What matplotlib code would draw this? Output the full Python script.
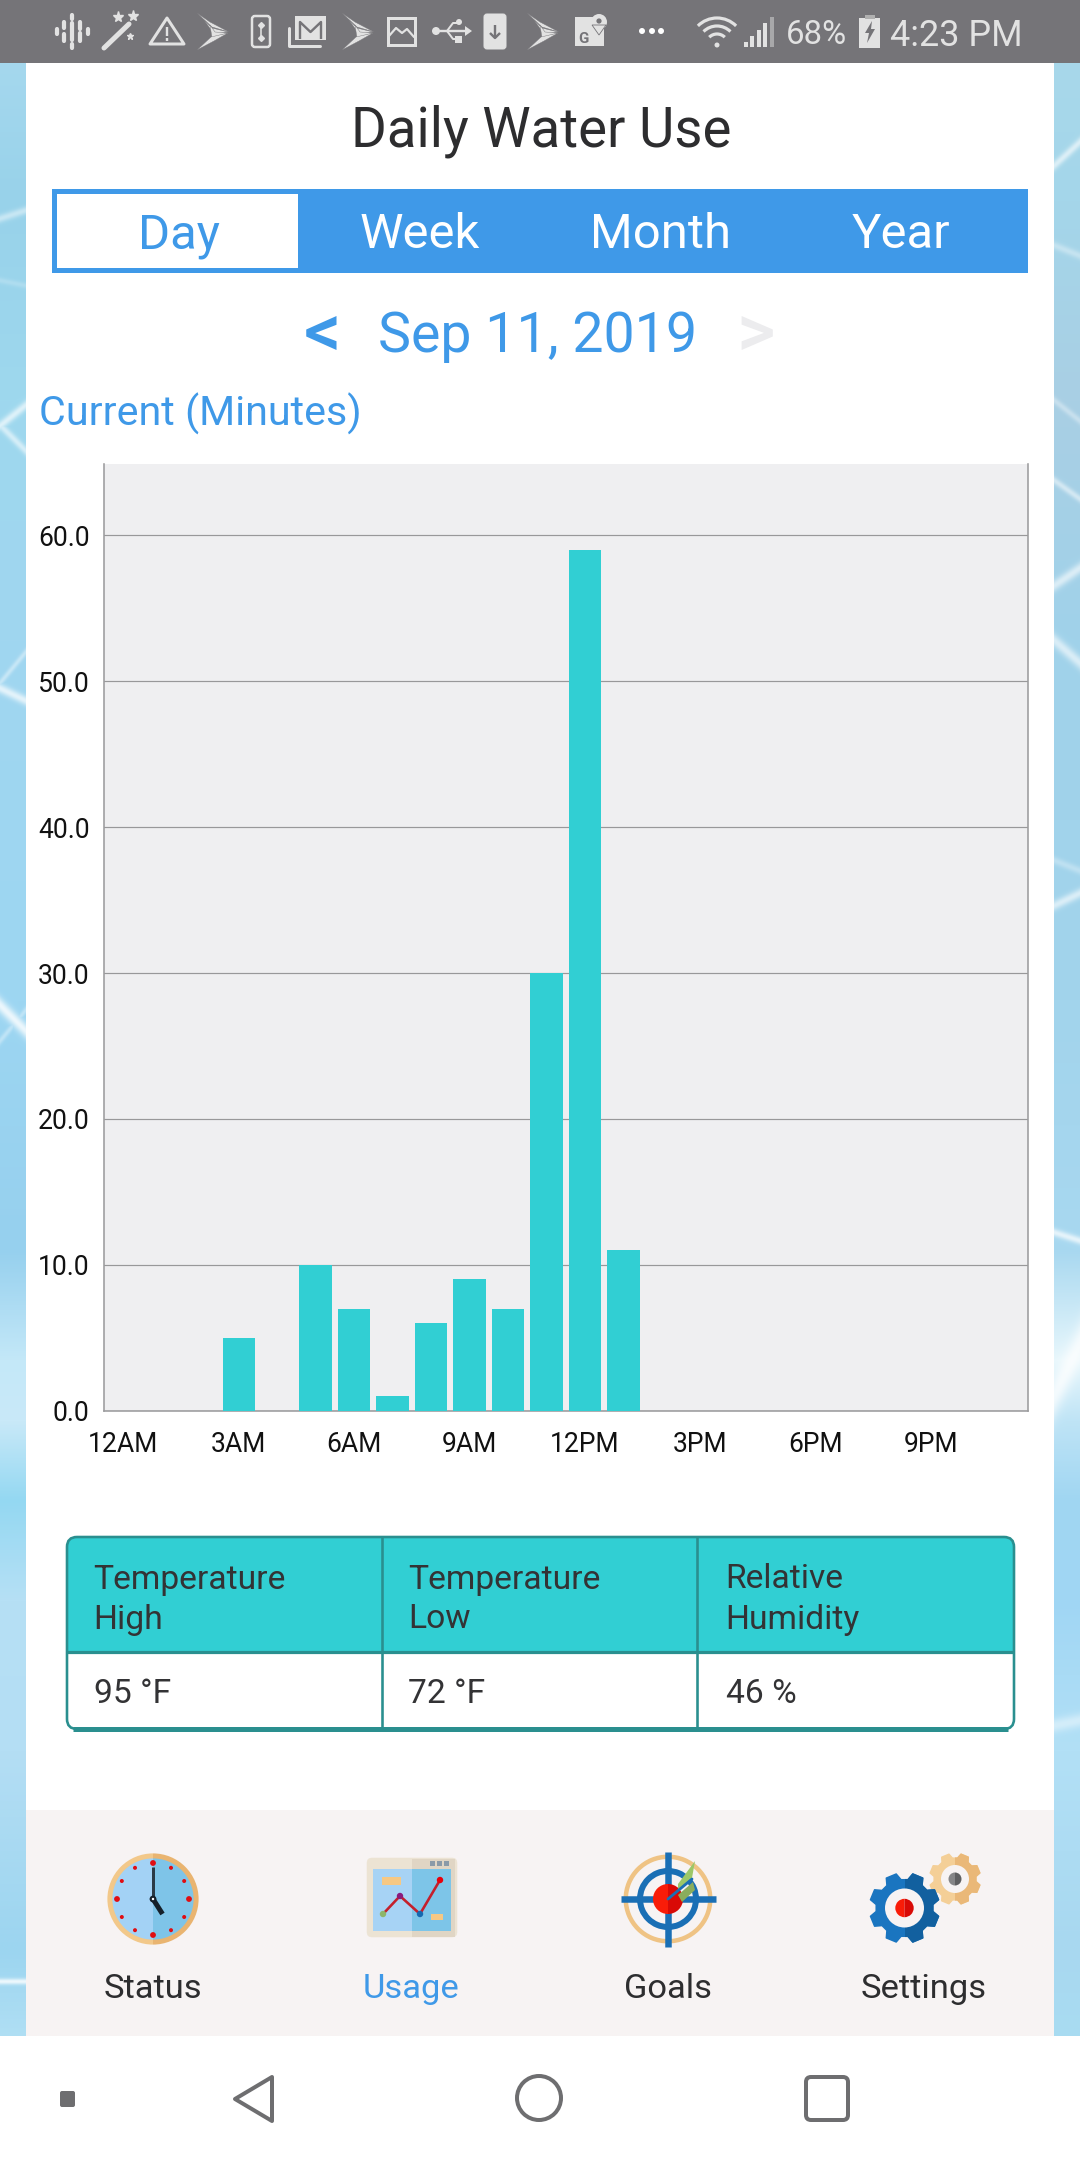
import numpy as np
import matplotlib
matplotlib.use("Agg")
import matplotlib.pyplot as plt
from matplotlib.patches import Rectangle, Circle, Polygon, FancyBboxPatch, Wedge, Arc

plt.rcParams['font.family'] = ['Roboto', 'DejaVu Sans']

# ---- data ----
hours = [3, 5, 6, 7, 8, 9, 10, 11, 12, 13]
minutes = [5, 10, 7, 1, 6, 9, 7, 30, 59, 11]
x_tick_hours = [0, 3, 6, 9, 12, 15, 18, 21]
x_tick_labels = ['12AM', '3AM', '6AM', '9AM', '12PM', '3PM', '6PM', '9PM']
y_ticks = [0, 10, 20, 30, 40, 50, 60]
tabs = ['Day', 'Week', 'Month', 'Year']
table_headers = [['Temperature', 'High'], ['Temperature', 'Low'], ['Relative', 'Humidity']]
table_values = ['95 °F', '72 °F', '46 %']
nav_labels = ['Status', 'Usage', 'Goals', 'Settings']

BLUE = '#3f99e8'
TEAL = '#31cfd3'
DARK = '#2d2d2f'
ICON = '#e2e2e2'
STATUS = '#757478'
NAVGRAY = '#6e6e70'
NAVBG = '#f7f3f3'

fig = plt.figure(figsize=(10.8, 21.6), dpi=100, facecolor='white')
bg = fig.add_axes([0, 0, 1, 1])
bg.axis('off')

def px(p):
    return p * 0.72

def T(x, y, s, size_px, color=DARK, ha='left', va='baseline', weight='normal', **kw):
    return bg.text(x, y, s, fontsize=px(size_px), color=color, ha=ha, va=va, fontweight=weight, **kw)

def R(x0, y0, x1, y1, color, z=1, **kw):
    bg.add_patch(Rectangle((x0, y0), x1 - x0, y1 - y0, facecolor=color, edgecolor='none', zorder=z, **kw))

def C(x, y, r, color, z=3):
    bg.add_patch(Circle((x, y), r, facecolor=color, edgecolor='none', zorder=z))

def L(xs, ys, color, w, z=3, **kw):
    bg.plot(xs, ys, color=color, lw=px(w), zorder=z, solid_capstyle=kw.pop('cap', 'round'), solid_joinstyle='round', **kw)

# ---- pool-water side strips (soft gradients with blurred light streaks) ----
stops_y = [63, 200, 400, 640, 1000, 1250, 1360, 1420, 1500, 1600, 1750, 1950, 2036]
left_c = ['#a5d8ee', '#98d2ea', '#9ed8ee', '#a0d6f0', '#9dd6f2', '#96d0ee', '#c4e8f8', '#c9e9f8',
          '#94d8f2', '#b6e0f5', '#b4def4', '#9cd5f0', '#b0dff4']
right_c = ['#a8d8ea', '#a4d6ea', '#a9cfe4', '#a0d2ea', '#a2d4ec', '#a8d8f0', '#e8f7fc', '#bfe4f6',
           '#a0d6f2', '#a0d6f4', '#b2e0f6', '#a8d8f0', '#a8dcf2']
left_streaks = [(218, 210, 4, .45), (280, 285, 3, .2), (425, 405, 5, .65), (425, 450, 5, .55), (682, 652, 4, .4),
                (688, 700, 5, .7), (1005, 1030, 8, .8), (1040, 1010, 4, .35), (1981, 1981, 3, .8)]
right_streaks = [(165, 142, 5, .6), (245, 255, 4, .35), (400, 420, 4, .35), (480, 498, 4, .5), (585, 568, 6, .6),
                 (640, 662, 7, .6), (905, 893, 5, .6), (860, 870, 4, .3),
                 (1232, 1240, 4, .7), (1395, 1345, 22, .75), (1725, 1720, 7, .45)]
ys = np.arange(63, 2037)
xs_strip = np.linspace(0, 1, 26)
def strip(cols, streaks):
    rgb = np.array([matplotlib.colors.to_rgb(c) for c in cols])
    base = np.stack([np.interp(ys, stops_y, rgb[:, i]) for i in range(3)], axis=1)[:, None, :]
    img = np.repeat(base, xs_strip.size, axis=1)
    yy, xx = np.meshgrid(ys, xs_strip, indexing='ij')
    glow = np.zeros_like(yy, dtype=float)
    for y0, y1, s, a in streaks:
        glow = np.maximum(glow, a * np.exp(-((yy - (y0 + (y1 - y0) * xx)) / s) ** 2))
    return img * (1 - glow[..., None]) + glow[..., None]
bg.imshow(strip(left_c, left_streaks), extent=(0, 26, 2037, 63), aspect='auto', zorder=0, interpolation='bilinear')
bg.imshow(strip(right_c, right_streaks), extent=(1054, 1080, 2037, 63), aspect='auto', zorder=0, interpolation='bilinear')
bg.set_xlim(0, 1080)
bg.set_ylim(2160, 0)

# ---- page panel and bars ----
R(26, 63, 1054, 1810, 'white', 0.8)
R(26, 1810, 1054, 2036, NAVBG, 0.8)
R(0, 0, 1080, 63, STATUS, 0.9)
R(0, 2036, 1080, 2160, 'white', 0.9)

# ---- status bar ----
def sprint(x):
    feathers = [[[x, 13], [x + 13, 22], [x + 32, 32], [x + 15, 27]],
                [[x + 7, 20], [x + 17, 34], [x + 31, 32], [x + 15, 28]],
                [[x + 13, 25], [x + 15, 38], [x + 31, 33], [x + 18, 32]],
                [[x + 31, 33], [x + 14, 37], [x, 50], [x + 17, 41]]]
    for f in feathers:
        bg.add_patch(Polygon(f, closed=True, facecolor=ICON, edgecolor=STATUS, lw=0.3, zorder=3))
for xc, ylist in [(57, [(29, 34)]), (64, [(22, 28), (34, 41)]), (72, [(15, 19), (23, 40), (44, 48)]),
                  (80, [(22, 29), (33, 41)]), (88, [(29, 34)])]:
    for a, b in ylist:
        L([xc, xc], [a, b], ICON, 4.2)
L([104, 129], [48, 24], ICON, 5)
bg.plot([118, 133], [17, 16], ls='', marker='*', color=ICON, ms=8)
bg.plot([130], [36], ls='', marker='*', color=ICON, ms=5)
bg.add_patch(Polygon([[167, 18], [150, 44], [184, 44]], closed=True, fill=False, edgecolor=ICON, lw=px(3), joinstyle='round', zorder=3))
L([167, 167], [27, 36], ICON, 2.4, cap='butt')
L([167, 167], [38, 41], ICON, 2.4, cap='butt')
for sx in [197, 342, 527]:
    sprint(sx)
def rrect(x0, y0, x1, y1, edge, face='none', w=2.5, rad=3, z=3):
    bg.add_patch(FancyBboxPatch((x0 + rad, y0 + rad), x1 - x0 - 2 * rad, y1 - y0 - 2 * rad,
                                boxstyle=f'round,pad={rad},rounding_size={rad}', facecolor=face,
                                edgecolor=edge, lw=px(w), zorder=z))
rrect(252, 16, 270, 47, ICON)
L([261, 261], [25, 38], ICON, 1.6)
bg.plot([261, 261], [25, 38], ls='', marker='D', color=ICON, ms=3)
L([289, 289, 320], [28, 46, 46], ICON, 3)
R(295, 16, 326, 40, ICON, 3)
L([300, 300, 310.5, 321, 321], [39, 22, 32, 22, 39], STATUS, 2.4, z=4, cap='butt')
bg.add_patch(Rectangle((388, 18), 27, 27, fill=False, edgecolor=ICON, lw=px(3), zorder=3))
L([389, 396, 402, 407, 414], [36, 28, 33, 29, 37], ICON, 2.2)
C(436, 31, 4, ICON)
L([436, 465], [31, 31], ICON, 2.4)
bg.add_patch(Polygon([[465, 26], [465, 36], [472, 31]], closed=True, facecolor=ICON, zorder=3))
L([447, 453, 458], [31, 23, 23], ICON, 2)
L([447, 453, 456], [31, 39, 39], ICON, 2)
C(459, 22, 3, ICON)
R(455, 36, 462, 43, ICON, 3)
rrect(484, 14, 506, 49, ICON, ICON, w=1)
L([495, 495], [25, 37], STATUS, 2.4, z=4, cap='butt')
L([490, 495, 500], [33, 38, 33], STATUS, 2.4, z=4, cap='butt')
R(575, 17, 604, 46, ICON, 3)
C(599, 22, 8, ICON, 4)
bg.add_patch(Polygon([[592, 25], [606, 25], [599, 35]], closed=True, facecolor=ICON, edgecolor=STATUS, lw=0.6, zorder=4))
C(599, 21, 2.6, STATUS, 5)
T(583, 43, 'G', 15, color=STATUS, ha='center', weight='bold', zorder=5)
for dx in [642, 652, 661]:
    C(dx, 31, 3, 'white')
for r in [27, 19, 11]:
    bg.add_patch(Arc((717, 45), 2 * r, 2 * r, theta1=225, theta2=315, edgecolor=ICON, lw=px(3.2), zorder=3))
C(717, 45, 2.5, ICON)
for k, (bx, h) in enumerate(zip([746, 752, 759, 765, 772], [5, 11, 17, 24, 30])):
    R(bx - 2, 47 - h, bx + 2, 47, ICON if k < 4 else '#a8a8aa', 3)
T(786, 43.5, '68%', 33, color=ICON)
R(859, 18, 880, 48, ICON, 3)
R(865, 15, 875, 19, '#b0b0b0', 3)
bg.add_patch(Polygon([[872, 21], [865, 33], [869, 33], [867, 43], [875, 29], [871, 29]], closed=True, facecolor=STATUS, zorder=4))
T(1023, 45.5, '4:23 PM', 36, color=ICON, ha='right')

# ---- title, tabs, date ----
T(541, 147, 'Daily Water Use', 54.5, color=DARK, ha='center')
R(52, 189, 1028, 273, BLUE, 1)
R(57, 194, 298, 268, 'white', 2)
for i, (tab, xc) in enumerate(zip(tabs, [179, 420, 660, 901])):
    T(xc, 248.5, tab, 49, color=BLUE if i == 0 else 'white', ha='center', zorder=3)
T(322, 356, '<', 74, color=BLUE, ha='center', weight='medium')
T(538, 352, 'Sep 11, 2019', 55.5, color=BLUE, ha='center')
T(756, 356, '>', 74, color='#ececee', ha='center', weight='medium')
T(39, 426, 'Current (Minutes)', 41.2, color=BLUE)

# ---- table ----
tx0, tx1, ty0, ty1, thead = 67, 1014, 1537, 1729, 1652
cols = [tx0, 381.5, 697, tx1]
EDGE = '#2a8f8f'
box = dict(boxstyle='round,pad=10,rounding_size=10')
xy = (tx0 + 10, ty0 + 10)
bw, bh = tx1 - tx0 - 20, ty1 - ty0 - 20
bg.add_patch(FancyBboxPatch(xy, bw, bh, facecolor='white', edgecolor='none', zorder=1, **box))
head = FancyBboxPatch(xy, bw, bh, facecolor=TEAL, edgecolor='none', zorder=1.1, **box)
bg.add_patch(head)
head.set_clip_path(Rectangle((tx0 - 5, ty0 - 5), tx1 - tx0 + 10, thead - ty0 + 5, transform=bg.transData))
bg.add_patch(FancyBboxPatch(xy, bw, bh, facecolor='none', edgecolor=EDGE, lw=px(2.6), zorder=2, **box))
L([tx0 + 6, tx1 - 6], [ty1, ty1], EDGE, 5, z=2.1, cap='butt')
L([tx0, tx1], [thead, thead], EDGE, 3.2, z=2, cap='butt')
for c in cols[1:3]:
    L([c, c], [ty0, ty1], EDGE, 2.6, z=2, cap='butt')
for c, hdr, val in zip([93.5, 408.5, 725.5], table_headers, table_values):
    T(c, 1588.5, hdr[0], 33.7, color='#333335', zorder=3)
    T(c, 1628.5, hdr[1], 33.7, color='#333335', zorder=3)
    T(c, 1703, val, 33.7, color='#333335', zorder=3)

# ---- bottom nav labels ----
for i, (lab, xc) in enumerate(zip(nav_labels, [153, 411, 668, 924])):
    T(xc, 1998, lab, 34.5, color=BLUE if i == 1 else DARK, ha='center', zorder=3)

# ---- clock icon ----
def half(xc, yc, r, left, right, z=3):
    bg.add_patch(Wedge((xc, yc), r, 90, 270, facecolor=left, edgecolor='none', zorder=z))
    bg.add_patch(Wedge((xc, yc), r, -90, 90, facecolor=right, edgecolor='none', zorder=z))
cx, cy = 153, 1899
half(cx, cy, 45.6, '#f2c88a', '#e9b470')
half(cx, cy, 40.6, '#a3d2f5', '#7ec4e8', z=3.1)
for k in range(12):
    a = np.deg2rad(30 * k)
    C(cx + 36 * np.sin(a), cy - 36 * np.cos(a), 2.9 if k % 3 == 0 else 2, '#e00d12', 3.2)
L([cx, cx], [cy, cy - 32], '#2a3a46', 3, z=3.3, cap='butt')
L([cx, cx + 9.5], [cy, cy + 15], '#15202a', 5, z=3.3, cap='butt')
C(cx, cy, 3.4, '#15202a', 3.4)
C(cx, cy, 1.2, 'white', 3.5)

# ---- usage icon ----
rrect(367, 1858, 457, 1937, '#ece3d3', '#ece3d3', w=0.5, rad=5, z=3)
R(412, 1858.5, 455, 1936.5, '#e0d5c4', 3.05)
R(373, 1869, 412, 1931, '#a7d3f5', 3.1)
R(412, 1869, 451, 1931, '#7dc5e8', 3.1)
for sqx in [432, 439, 446]:
    R(sqx - 2.5, 1860.5, sqx + 2.5, 1865.5, '#8a9aa8', 3.2)
R(382, 1877, 401, 1885, '#f6c884', 3.2)
R(431, 1914, 443, 1920, '#f6c884', 3.2)
L([383, 400, 420, 440], [1914, 1896, 1914, 1880], '#c4202c', 2.6, z=3.2)
for (pxx, pyy, colr) in [(383, 1914, '#8db56a'), (400, 1896, '#8b1a7c'), (420, 1914, '#1569b0'), (440, 1880, '#e8000c')]:
    C(pxx, pyy, 3.2, colr, 3.3)

# ---- goals icon ----
gx, gy = 668, 1899
bg.add_patch(Wedge((gx, gy), 44.5, 90, 450, width=4.5, facecolor='#efc384', edgecolor='none', zorder=3))
bg.add_patch(Wedge((gx, gy), 31, 90, 450, width=6, facecolor='#1a6fb5', edgecolor='none', zorder=3.1))
L([gx - 47.5, gx + 47.5], [gy, gy], '#1a6fb5', 6.5, z=3.3, cap='butt')
L([gx, gx], [gy - 47.5, gy + 47.5], '#1a6fb5', 6.5, z=3.3, cap='butt')
half(gx, gy, 15, '#f91c08', '#d90a06', z=3.4)
bg.add_patch(Polygon([[678, 1884], [695, 1861], [692, 1878], [678, 1890]], closed=True, facecolor='#9cc768', zorder=3.5))
bg.add_patch(Polygon([[678, 1895], [693, 1882], [695, 1890], [682, 1902]], closed=True, facecolor='#8aad5c', zorder=3.5))
L([gx, 692], [1899, 1879], '#1a6fb5', 2.8, z=3.6)

# ---- settings icon ----
def gear(xc, yc, ro, rr, n, left, right, z):
    pts = []
    step = 2 * np.pi / n
    for k in range(n):
        a = k * step + step / 2
        for off, r in [(-.30, rr), (-.17, ro), (.17, ro), (.30, rr)]:
            pts.append([xc + r * np.sin(a + off * step * 1.15), yc - r * np.cos(a + off * step * 1.15)])
    bg.add_patch(Polygon(pts, closed=True, facecolor=left, edgecolor=left, lw=px(1.5), joinstyle='round', zorder=z))
    p2 = Polygon(pts, closed=True, facecolor=right, edgecolor=right, lw=px(1.5), joinstyle='round', zorder=z + .01)
    bg.add_patch(p2)
    p2.set_clip_path(Rectangle((xc, yc - ro - 5), ro + 5, 2 * ro + 10, transform=bg.transData))
gear(955, 1879, 25.5, 21, 8, '#f4cf97', '#eab878', 3)
C(955, 1879, 14, NAVBG, 3.1)
half(955, 1879, 6.5, '#858587', '#5f5f61', z=3.2)
gear(904.5, 1908, 35, 28.5, 8, '#1a75c0', '#12609f', 3.3)
C(904.5, 1908, 19.5, NAVBG, 3.4)
half(904.5, 1908, 9.2, '#f91c08', '#d90a06', z=3.5)

# ---- Android nav bar ----
bg.add_patch(FancyBboxPatch((62, 2093), 11, 12, boxstyle='round,pad=2,rounding_size=2', facecolor=NAVGRAY, edgecolor='none', zorder=3))
bg.add_patch(Polygon([[272, 2077], [235, 2099], [272, 2121]], closed=True, fill=False, edgecolor=NAVGRAY, lw=px(4), joinstyle='round', zorder=3))
bg.add_patch(Circle((539, 2098), 22, fill=False, edgecolor=NAVGRAY, lw=px(4), zorder=3))
rrect(806, 2077, 848, 2120, NAVGRAY, 'none', w=4, rad=5)

# ---- chart ----
W, H = 1080, 2160
ax = fig.add_axes([104 / W, 1 - 1410.6 / H, 923.6 / W, (1410.6 - 464) / H], zorder=5)
ax.set_facecolor('#efeff1')
ax.bar(hours, minutes, width=0.84, color=TEAL, zorder=3)
ax.set_xlim(-0.5, 23.5)
ax.set_ylim(0, 64.9)
ax.set_yticks(y_ticks)
ax.set_yticklabels([f'{v:.1f}' for v in y_ticks])
ax.set_xticks(x_tick_hours)
ax.set_xticklabels(x_tick_labels)
ax.tick_params(axis='both', length=0, labelsize=px(26.5), labelcolor='#111111')
ax.tick_params(axis='y', pad=px(14.5))
ax.tick_params(axis='x', pad=px(20.5))
ax.grid(axis='y', color='#98989a', lw=px(1.2), zorder=1)
ax.set_axisbelow(True)
ax.spines['top'].set_visible(False)
for s in ['left', 'right', 'bottom']:
    ax.spines[s].set_color('#9c9c9e')
    ax.spines[s].set_linewidth(px(1.6))

fig.savefig('out.png', dpi=100, facecolor='white')
